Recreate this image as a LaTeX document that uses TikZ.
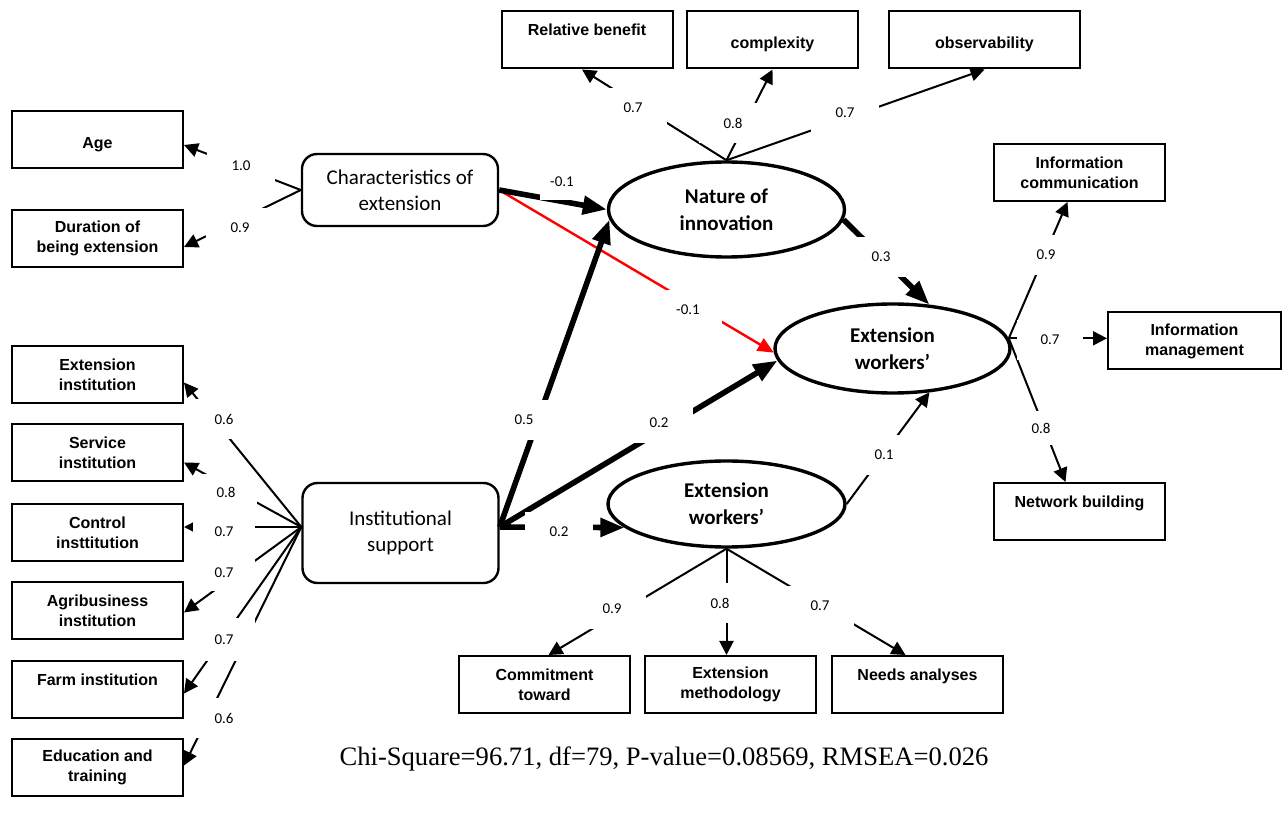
\documentclass[tikz,border=0pt]{standalone}
\usepackage{fontspec}
\setmainfont{Liberation Serif}
\newfontfamily\arialfont{Liberation Sans}
\newfontfamily\calibrifont{Carlito}
\usepackage{tikz}
\usetikzlibrary{arrows.meta,shapes.geometric}
\tikzset{
  sem obs/.style={
    rectangle,
    draw=black,
    line width=1pt,
    minimum width=85.5pt,
    minimum height=28.5pt,
    inner sep=0pt,
    align=center,
    font=\arialfont\bfseries\fontsize{8}{10}\selectfont,
  },
  sem latent/.style={
    rectangle,
    rounded corners=7.5pt,
    draw=black,
    line width=1.2pt,
    minimum width=98pt,
    inner sep=0pt,
    align=center,
    font=\calibrifont\fontsize{10.5}{13}\selectfont,
  },
  sem factor/.style={
    ellipse,
    draw=black,
    line width=1.7pt,
    minimum width=118pt,
    inner sep=0pt,
    align=center,
    font=\calibrifont\bfseries\fontsize{10.5}{13.5}\selectfont,
  },
  sem coef/.style={
    fill=white,
    inner sep=0pt,
    minimum width=34pt,
    minimum height=20pt,
    font=\calibrifont\fontsize{7.5}{9}\selectfont,
  },
  sem coef left/.style={sem coef, minimum width=31pt},
  sem load/.style={-{Triangle[length=7pt,width=7pt]}, line width=1pt},
  sem path/.style={-{Triangle[length=12pt,width=9pt]}, line width=2.8pt},
  sem neg/.style={-{Triangle[length=8pt,width=7pt]}, line width=1.2pt, draw=red},
}

\begin{document}
\begin{tikzpicture}[x=0.5pt, y=-0.5pt]
  \useasboundingbox (0,0) rectangle (1282,818);

  \node[sem obs] (age) at (97.5,140) {~\\Age};
  \node[sem obs] (dur) at (97.5,238.5) {Duration of\\being extension};
  \node[sem obs] (exi) at (97.5,374.5) {Extension\\institution};
  \node[sem obs] (svi) at (97.5,452.5) {Service\\institution};
  \node[sem obs] (cti) at (97.5,532.5) {Control\\insttitution};
  \node[sem obs] (agi) at (97.5,610.5) {Agribusiness\\institution};
  \node[sem obs] (fmi) at (97.5,689.5) {Farm institution\\~};
  \node[sem obs] (edt) at (97.5,767.5) {Education and\\training};
  \node[sem obs] (rel) at (587,40) {Relative benefit\\~};
  \node[sem obs] (cpx) at (772.5,40) {~\\complexity};
  \node[sem obs, minimum width=95.5pt] (obv) at (984.5,40) {~\\observability};
  \node[sem obs] (icm) at (1079.5,172.5) {Information\\communication};
  \node[sem obs, minimum width=86.5pt] (imn) at (1194.5,341) {Information\\management};
  \node[sem obs] (nwb) at (1079.5,511.5) {Network building\\~};
  \node[sem obs] (cmt) at (544.5,684.5) {Commitment\\toward};
  \node[sem obs] (emt) at (730.5,684.5) {Extension\\methodology};
  \node[sem obs] (nda) at (917.5,684.5) {Needs analyses\\~};

  \node[sem latent, minimum height=36pt] (char) at (400,190) {Characteristics of\\extension};
  \node[sem latent, minimum height=50pt] (inst) at (400.5,533) {Institutional\\support};

  \node[sem factor, minimum height=47.5pt] (nat) at (726.5,209.5) {Nature of\\innovation};
  \node[sem factor, minimum width=117.5pt, minimum height=44.5pt] (ewm) at (892.5,348.5) {Extension\\workers’};
  \node[sem factor, minimum width=118.5pt, minimum height=43pt] (ewl) at (726.5,504) {Extension\\workers’};

  \draw[sem load] (char.west) -- ([yshift=-2.5pt]age.east);
  \draw[sem load] (char.west) -- ([yshift=-4.25pt]dur.east);
  \foreach \obs/\dy in {exi/-4pt, svi/-5pt, cti/2.75pt, agi/-1pt, fmi/-2pt, edt/1pt}
    \draw[sem load] ([yshift=3pt]inst.west) -- ([yshift=\dy]\obs.east);

  \draw[sem load] (nat.north) -- ([xshift=-2.5pt]rel.south);
  \draw[sem load] (nat.north) -- (cpx.south);
  \draw[sem load] (nat.north) -- (obv.south);
  \draw[sem load] (ewm.5) -- ([xshift=-6pt]icm.south);
  \draw[sem load] (ewm.5) -- (ewm.5 -| imn.west);
  \draw[sem load] (ewm.5) -- ([xshift=-7pt]nwb.north);
  \draw[sem load] (ewl.south) -- ([xshift=2pt]cmt.north);
  \draw[sem load] (ewl.south) -- (ewl.south |- emt.north);
  \draw[sem load] (ewl.south) -- ([xshift=-6pt]nda.north);

  \draw[sem neg] (char.east) -- (ewm.182);
  \draw[sem path] (char.east) -- (nat.west);
  \draw[sem path] (nat.-5) -- (ewm.50);
  \draw[sem path] ([yshift=3pt]inst.east) -- (nat.185);
  \draw[sem path] ([yshift=3pt]inst.east) -- (ewm.186);
  \draw[sem path] ([yshift=3pt]inst.east) -- (ewl.193);
  \draw[sem load] (ewl.east) -- (ewm.-50);

  \node[sem coef] (k-age) at (241,166) {1.0};
  \node[sem coef] (k-dur) at (240,228) {0.9};
  \node[sem coef left] (k-exi) at (224,419) {0.6};
  \node[sem coef left, minimum height=18pt] (k-svi) at (226,492) {0.8};
  \node[sem coef left] (k-cti) at (224,532) {0.7};
  \node[sem coef left, minimum height=18.5pt] (k-agi) at (224,573) {0.7};
  \node[sem coef left, minimum height=21.5pt] (k-fmi) at (224,640) {0.7};
  \node[sem coef left] (k-edt) at (224,718) {0.6};
  \node[sem coef] (k-rel) at (633,108) {0.7};
  \node[sem coef] (k-cpx) at (733,123) {0.8};
  \node[sem coef] (k-obv) at (845,113) {0.7};
  \node[sem coef, minimum width=22pt, minimum height=18pt] (k-cn) at (562,182) {-0.1};
  \node[sem coef] (k-ce) at (688,310) {-0.1};
  \node[sem coef] (k-ne) at (881,257) {0.3};
  \node[sem coef] (k-in) at (524,420) {0.5};
  \node[sem coef] (k-ie) at (659,423) {0.2};
  \node[sem coef] (k-il) at (559,532) {0.2};
  \node[sem coef] (k-le) at (884,455) {0.1};
  \node[sem coef] (k-icm) at (1046,255) {0.9};
  \node[sem coef, minimum width=33pt] (k-imn) at (1050,340) {0.7};
  \node[sem coef, minimum height=17pt] (k-nwb) at (1041,428) {0.8};
  \node[sem coef] (k-cmt) at (612,609) {0.9};
  \node[sem coef] (k-emt) at (720,603) {0.8};
  \node[sem coef] (k-nda) at (820,606) {0.7};

  \node[font=\fontsize{13.3}{15}\selectfont] (fit) at (664,759) {Chi-Square=96.71, df=79, P-value=0.08569, RMSEA=0.026};
\end{tikzpicture}
\end{document}
